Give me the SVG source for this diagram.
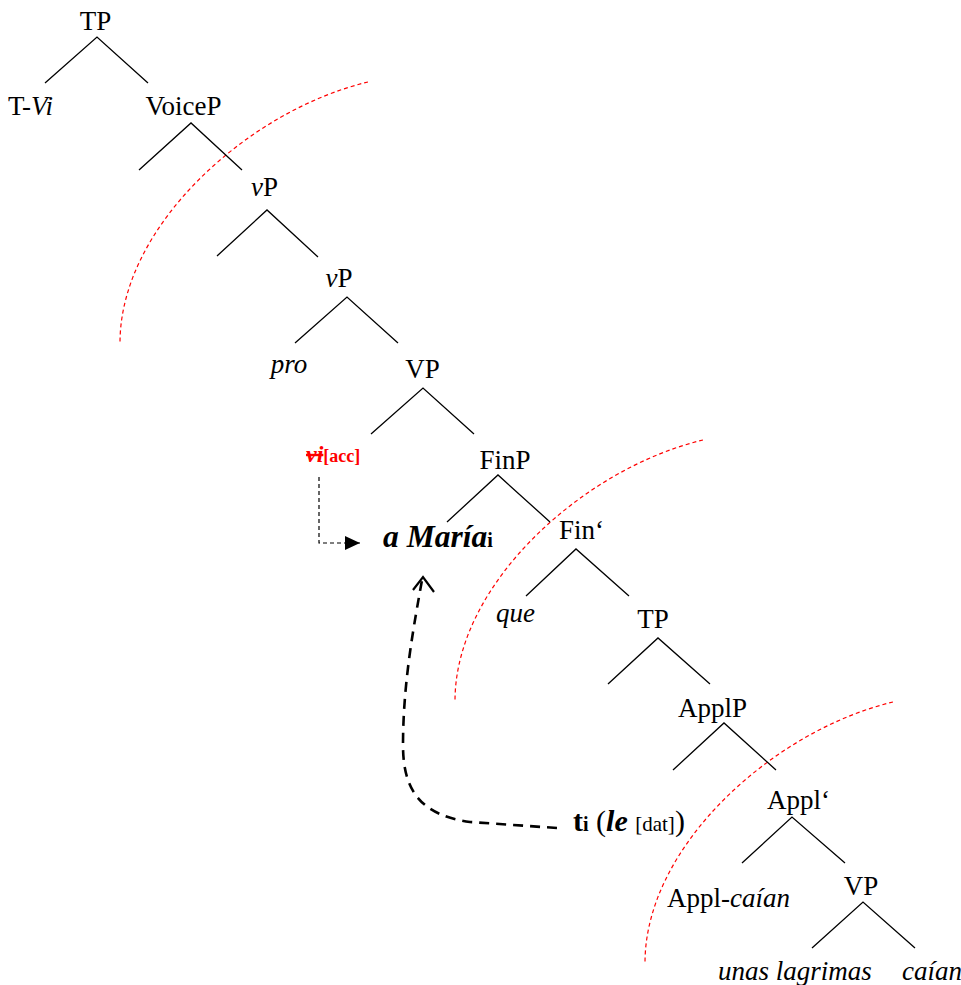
<svg xmlns="http://www.w3.org/2000/svg" width="961" height="985" viewBox="0 0 961 985">
<style>
text{font-family:"Liberation Serif","Times New Roman",serif;font-size:27px;fill:#000}
.it{font-style:italic}
.b{font-weight:bold}
.br{stroke:#000;stroke-width:1.3;fill:none}
.red{stroke:#ff0000;stroke-width:1.2;fill:none;stroke-dasharray:4 3}
.mc{text-anchor:middle}
</style>
<defs>
<path id="arc" d="M368,82 C250,110 120,225 120,343"/>
<marker id="tri" markerWidth="16" markerHeight="14" refX="15" refY="7" orient="auto" markerUnits="userSpaceOnUse">
<path d="M0,0 L15,7 L0,14 Z" fill="#000"/>
</marker>
</defs>
<rect width="961" height="985" fill="#fff"/>

<g id="arcs">
<use href="#arc" class="red"/>
<use href="#arc" class="red" transform="translate(335,358)"/>
<use href="#arc" class="red" transform="translate(525,620)"/>
</g>

<g id="connectors">
<path class="br" d="M45,83 L97,37 L148,83"/>
<path class="br" d="M139,170 L191,123 L242,170"/>
<path class="br" d="M217,256 L267,210 L318,257"/>
<path class="br" d="M295,343 L347,297 L398,343"/>
<path class="br" d="M371,434 L423,388 L474,434"/>
<path class="br" d="M447,522 L498,475 L550,522"/>
<path class="br" d="M526,596 L576,549 L629,596"/>
<path class="br" d="M608,684 L658,638 L710,684"/>
<path class="br" d="M673,770 L724,723 L776,770"/>
<path class="br" d="M742,863 L792,817 L845,863"/>
<path class="br" d="M812,948 L863,902 L915,948"/>
<path d="M319,477 V543 H360" fill="none" stroke="#000" stroke-width="1.2" stroke-dasharray="4 3" marker-end="url(#tri)"/>
<path d="M557,828 L470,822 C420,815 403,790 403,745 C403,680 415,620 422,580" fill="none" stroke="#000" stroke-width="2.6" stroke-dasharray="10 7"/>
<path d="M413,590 L423,577 L434,592" fill="none" stroke="#000" stroke-width="2.2"/>
</g>

<g id="n-TP"><text x="95.5" y="30" class="mc">TP</text></g>
<g id="n-TVi"><text x="8" y="115">T-<tspan class="it">Vi</tspan></text></g>
<g id="n-VoiceP"><text x="183.5" y="115" class="mc">VoiceP</text></g>
<g id="n-vP1"><text x="264.5" y="196" class="mc"><tspan class="it">v</tspan>P</text></g>
<g id="n-vP2"><text x="339" y="287" class="mc"><tspan class="it">v</tspan>P</text></g>
<g id="n-pro"><text x="289" y="373" class="mc it">pro</text></g>
<g id="n-VP1"><text x="422.5" y="378" class="mc">VP</text></g>
<g id="n-vi"><text x="306" y="462" style="fill:#ff0000"><tspan class="b it" font-size="24" text-decoration="line-through">vi</tspan><tspan class="b" font-size="18">[acc]</tspan></text></g>
<g id="n-FinP"><text x="505" y="469" class="mc">FinP</text></g>
<g id="n-Maria"><text x="383" y="547"><tspan class="b it" font-size="31.5">a María</tspan><tspan class="b" font-size="20">i</tspan></text></g>
<g id="n-Finbar"><text x="559" y="539">Fin‘</text></g>
<g id="n-que"><text x="515.5" y="622" class="mc it">que</text></g>
<g id="n-TP2"><text x="653" y="628" class="mc">TP</text></g>
<g id="n-ApplP"><text x="712.5" y="717" class="mc">ApplP</text></g>
<g id="n-ti"><text x="573" y="831"><tspan class="b" font-size="30">t</tspan><tspan class="b" font-size="20">i</tspan><tspan font-size="30"> (</tspan><tspan class="b it" font-size="30">le </tspan><tspan font-size="21">[dat]</tspan><tspan font-size="30">)</tspan></text></g>
<g id="n-Applbar"><text x="767" y="809">Appl‘</text></g>
<g id="n-Applcaian"><text x="667" y="907">Appl-<tspan class="it">caían</tspan></text></g>
<g id="n-VP2"><text x="861" y="895" class="mc">VP</text></g>
<g id="n-unas"><text x="718" y="980" class="it">unas lagrimas</text></g>
<g id="n-caian"><text x="902" y="980" class="it">caían</text></g>
</svg>
